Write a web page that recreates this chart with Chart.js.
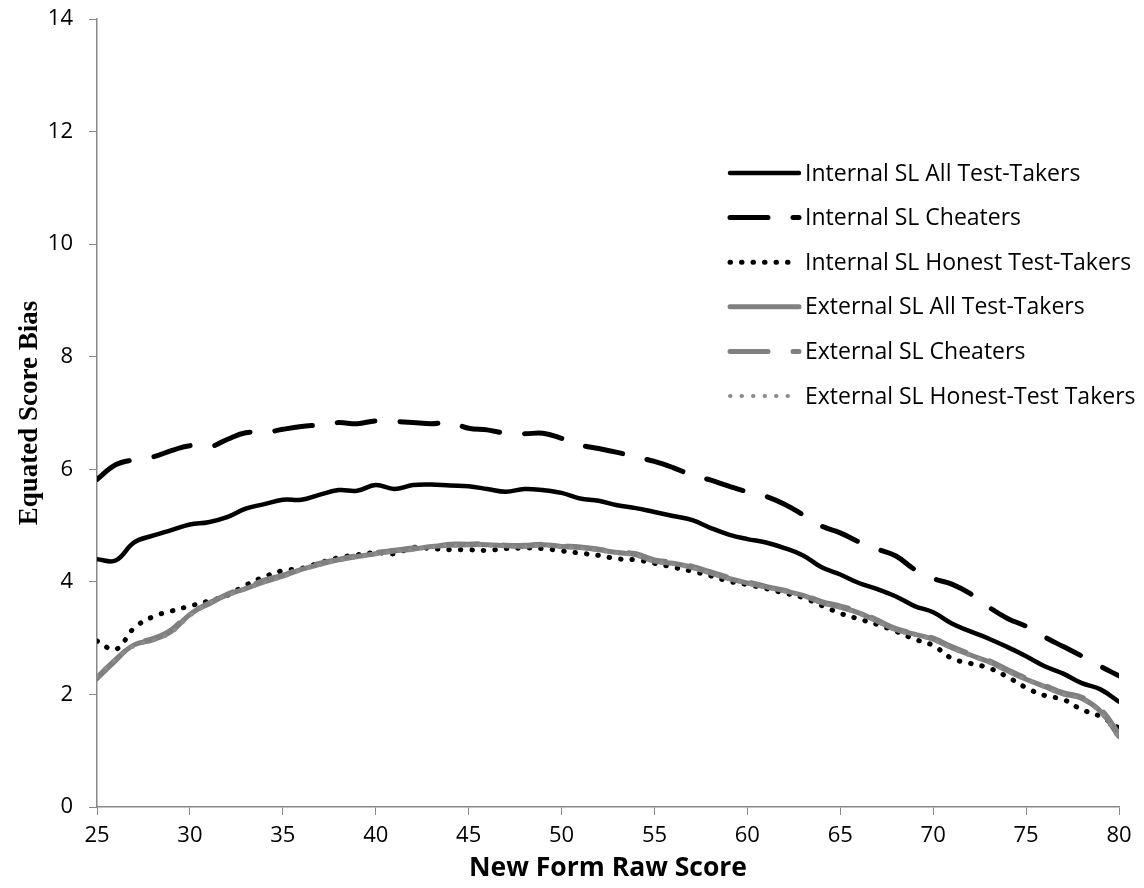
<!DOCTYPE html>
<html>
<head>
<meta charset="utf-8">
<script src="https://cdn.jsdelivr.net/npm/chart.js@4.4.1/dist/chart.umd.min.js"></script>
<style>
	body { margin: 0; background: #fff; }
	canvas { display: block; }
</style>
</head>
<body>
<canvas id="chart" width="1144" height="888"></canvas>
<script>
var scores = [25, 26, 27, 28, 29, 30, 31, 32, 33, 34, 35, 36, 37, 38, 39, 40, 41, 42, 43, 44, 45, 46, 47, 48, 49, 50, 51, 52, 53, 54, 55, 56, 57, 58, 59, 60, 61, 62, 63, 64, 65, 66, 67, 68, 69, 70, 71, 72, 73, 74, 75, 76, 77, 78, 79, 80];

var internalAll = [4.40, 4.38, 4.70, 4.82, 4.92, 5.02, 5.06, 5.15, 5.30, 5.38, 5.46, 5.46, 5.55, 5.63, 5.62, 5.72, 5.65, 5.72, 5.73, 5.71, 5.70, 5.65, 5.60, 5.65, 5.63, 5.58, 5.48, 5.44, 5.36, 5.31, 5.24, 5.17, 5.10, 4.96, 4.84, 4.76, 4.70, 4.60, 4.47, 4.26, 4.13, 3.98, 3.87, 3.74, 3.57, 3.46, 3.26, 3.12, 2.99, 2.84, 2.68, 2.50, 2.37, 2.20, 2.09, 1.87];
var internalCheaters = [5.82, 6.08, 6.17, 6.22, 6.33, 6.42, 6.39, 6.53, 6.65, 6.65, 6.71, 6.76, 6.79, 6.83, 6.81, 6.86, 6.85, 6.83, 6.81, 6.83, 6.73, 6.70, 6.64, 6.63, 6.64, 6.55, 6.43, 6.37, 6.30, 6.22, 6.14, 6.03, 5.90, 5.81, 5.70, 5.60, 5.52, 5.38, 5.19, 4.99, 4.87, 4.71, 4.58, 4.46, 4.22, 4.06, 3.96, 3.79, 3.55, 3.35, 3.21, 3.02, 2.85, 2.68, 2.50, 2.33];
var internalHonest = [2.95, 2.80, 3.18, 3.38, 3.48, 3.57, 3.66, 3.76, 3.94, 4.09, 4.20, 4.24, 4.34, 4.43, 4.48, 4.52, 4.50, 4.61, 4.59, 4.57, 4.57, 4.56, 4.59, 4.60, 4.59, 4.55, 4.51, 4.47, 4.41, 4.39, 4.33, 4.26, 4.19, 4.11, 4.01, 3.95, 3.88, 3.80, 3.72, 3.58, 3.44, 3.34, 3.24, 3.12, 2.98, 2.87, 2.64, 2.55, 2.47, 2.31, 2.12, 1.98, 1.91, 1.73, 1.61, 1.40];
var externalAll = [2.30, 2.62, 2.88, 2.97, 3.12, 3.42, 3.62, 3.77, 3.88, 4.00, 4.10, 4.22, 4.31, 4.39, 4.45, 4.50, 4.55, 4.58, 4.63, 4.65, 4.66, 4.66, 4.64, 4.63, 4.66, 4.63, 4.61, 4.57, 4.52, 4.48, 4.37, 4.33, 4.26, 4.16, 4.06, 3.98, 3.91, 3.84, 3.76, 3.63, 3.55, 3.45, 3.30, 3.15, 3.07, 2.98, 2.83, 2.70, 2.58, 2.42, 2.27, 2.14, 2.01, 1.93, 1.70, 1.25];
var externalCheaters = [2.28, 2.60, 2.90, 2.99, 3.15, 3.45, 3.60, 3.78, 3.90, 4.03, 4.12, 4.24, 4.33, 4.40, 4.47, 4.52, 4.56, 4.60, 4.62, 4.67, 4.67, 4.68, 4.65, 4.65, 4.67, 4.64, 4.62, 4.58, 4.53, 4.50, 4.39, 4.35, 4.28, 4.18, 4.08, 4.00, 3.92, 3.85, 3.77, 3.65, 3.57, 3.47, 3.32, 3.17, 3.08, 3.00, 2.85, 2.72, 2.60, 2.44, 2.29, 2.16, 2.03, 1.95, 1.74, 1.30];
var externalHonest = [2.32, 2.63, 2.86, 2.96, 3.10, 3.40, 3.61, 3.76, 3.87, 3.99, 4.09, 4.21, 4.30, 4.38, 4.44, 4.49, 4.54, 4.57, 4.62, 4.64, 4.65, 4.65, 4.63, 4.62, 4.65, 4.62, 4.60, 4.56, 4.51, 4.47, 4.36, 4.32, 4.25, 4.15, 4.05, 3.97, 3.90, 3.83, 3.75, 3.62, 3.54, 3.44, 3.29, 3.14, 3.06, 2.97, 2.82, 2.69, 2.57, 2.41, 2.26, 2.13, 2.00, 1.92, 1.68, 1.22];

var seriesNames = ['Internal SL All Test-Takers', 'Internal SL Cheaters', 'Internal SL Honest Test-Takers', 'External SL All Test-Takers', 'External SL Cheaters', 'External SL Honest-Test Takers'];
var seriesValues = [internalAll, internalCheaters, internalHonest, externalAll, externalCheaters, externalHonest];

var black = '#000000';
var grey = '#808080';
var axisGrey = '#888888';
var styles = [
	{color: black, width: 4.5, dash: []},
	{color: black, width: 5, dash: [38, 25]},
	{color: black, width: 5, dash: [0.5, 11]},
	{color: grey, width: 5, dash: []},
	{color: grey, width: 5, dash: [38, 25]},
	{color: '#8c8c8c', width: 4, dash: [0.5, 11]},
];

var datasets = seriesNames.map((name, i) => ({
	label: name,
	data: scores.map((s, j) => ({x: s, y: seriesValues[i][j]})),
	borderColor: styles[i].color,
	borderWidth: styles[i].width,
	borderDash: styles[i].dash,
	borderCapStyle: 'round',
	borderJoinStyle: 'round',
	pointRadius: 0,
	tension: 0.4,
	fill: false,
	order: seriesNames.length - i,
}));

// legend sits inside the plot on the right, like the original
var insideLegend = {
	id: 'insideLegend',
	afterDatasetsDraw: (chart) => {
		var ctx = chart.ctx;
		ctx.save();
		chart.data.datasets.forEach((ds, i) => {
			var y = 173 + i * 44.6;
			ctx.beginPath();
			ctx.strokeStyle = ds.borderColor;
			ctx.lineWidth = ds.borderWidth;
			ctx.lineCap = 'round';
			ctx.setLineDash(ds.borderDash);
			ctx.moveTo(730, y);
			ctx.lineTo(799, y);
			ctx.stroke();
			ctx.setLineDash([]);
			ctx.fillStyle = '#000';
			ctx.font = '23px "Open Sans"';
			ctx.textBaseline = 'middle';
			ctx.fillText(ds.label, 805, y + 1);
		});
		ctx.restore();
	}
};

var chart = new Chart(document.getElementById('chart'), {
	type: 'line',
	data: {datasets: datasets},
	plugins: [insideLegend],
	options: {
		responsive: false,
		animation: false,
		devicePixelRatio: 1,
		layout: {padding: {left: 0, top: 19, right: 25, bottom: 0}},
		plugins: {legend: {display: false}, tooltip: {enabled: false}},
		scales: {
			x: {
				type: 'linear',
				min: 25,
				max: 80,
				ticks: {stepSize: 5, color: '#000', font: {family: 'Open Sans', size: 22}, padding: 8, maxRotation: 0},
				grid: {drawOnChartArea: false, drawTicks: true, tickLength: 8, color: axisGrey},
				border: {color: axisGrey, width: 1.5},
				title: {display: true, text: 'New Form Raw Score', color: '#000', font: {family: 'Open Sans', size: 26.5, weight: 'bold'}, padding: {top: 0, bottom: 4}},
				afterFit: (scale) => { scale.height = 81; }
			},
			y: {
				min: 0,
				max: 14,
				ticks: {stepSize: 2, color: '#000', font: {family: 'Open Sans', size: 22}, padding: 16},
				grid: {drawOnChartArea: false, drawTicks: true, tickLength: 8, color: axisGrey},
				border: {color: axisGrey, width: 1.5},
				title: {display: true, text: 'Equated Score Bias', color: '#000', font: {family: 'Liberation Serif', size: 27, weight: 'bold'}, padding: {top: 14, bottom: 0}},
				afterFit: (scale) => {
					scale.width = 97;
					scale.paddingTop = 0;
					scale.paddingBottom = 0;
				}
			}
		}
	}
});
</script>
</body>
</html>
